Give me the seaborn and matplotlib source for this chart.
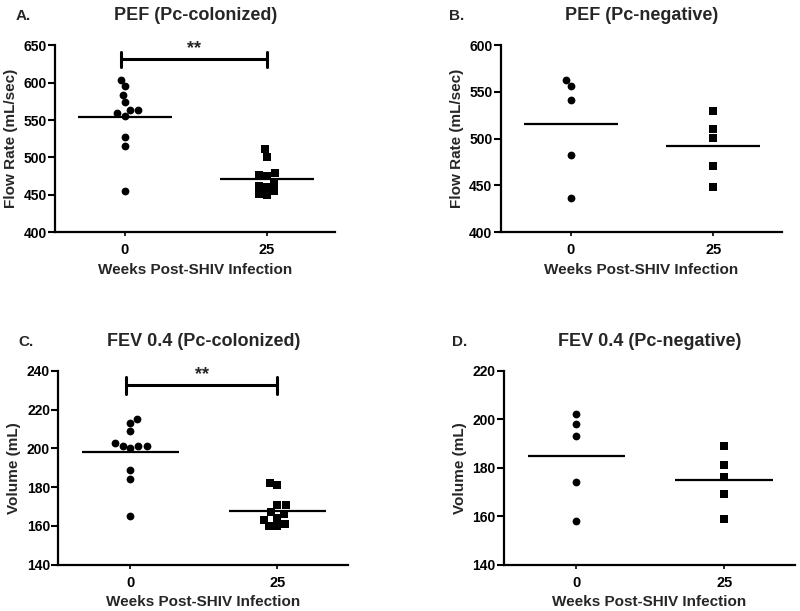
import numpy as np
import pandas as pd
import matplotlib
matplotlib.use("Agg")
import matplotlib.pyplot as plt
import seaborn as sns

# week categories on the x axis
weeks = ["0", "25"]

# A. PEF, Pc-colonized (mL/sec)
pef_col_w0 = [604, 595, 584, 574, 563, 563, 559, 555, 527, 515, 455]
pef_col_w25 = [511, 501, 479, 475, 476, 466, 462, 461, 455, 450, 451]
# B. PEF, Pc-negative (mL/sec)
pef_neg_w0 = [563, 556, 541, 483, 437]
pef_neg_w25 = [530, 510, 501, 471, 448]
# C. FEV 0.4, Pc-colonized (mL)
fev_col_w0 = [215, 213, 209, 203, 201, 200, 201, 201, 189, 184, 165]
fev_col_w25 = [182, 181, 171, 171, 167, 166, 164, 163, 161, 160, 160]
# D. FEV 0.4, Pc-negative (mL)
fev_neg_w0 = [202, 198, 193, 174, 158]
fev_neg_w25 = [189, 181, 176, 169, 159]

panels = [
    ("A.", "PEF (Pc-colonized)", "Flow Rate (mL/sec)", pef_col_w0, pef_col_w25, (400, 650), 50, (631, 10)),
    ("B.", "PEF (Pc-negative)", "Flow Rate (mL/sec)", pef_neg_w0, pef_neg_w25, (400, 600), 50, None),
    ("C.", "FEV 0.4 (Pc-colonized)", "Volume (mL)", fev_col_w0, fev_col_w25, (140, 240), 20, (232.5, 4.5)),
    ("D.", "FEV 0.4 (Pc-negative)", "Volume (mL)", fev_neg_w0, fev_neg_w25, (140, 220), 20, None),
]

# axes boxes in figure fractions [left, bottom, width, height]
boxes = [
    [0.069, 0.620, 0.350, 0.306],
    [0.626, 0.620, 0.351, 0.306],
    [0.073, 0.076, 0.362, 0.317],
    [0.630, 0.076, 0.364, 0.317],
]

sns.set_theme(style="ticks")
plt.rcParams["font.family"] = ["Liberation Sans", "DejaVu Sans"]
plt.rcParams["font.weight"] = "bold"

fig = plt.figure(figsize=(8, 6.11), dpi=100)

for (letter, title, ylabel, w0, w25, ylim, ystep, sig), box in zip(panels, boxes):
    ax = fig.add_axes(box)
    df = pd.DataFrame({
        "week": [weeks[0]] * len(w0) + [weeks[1]] * len(w25),
        "value": w0 + w25,
    })

    # mean line drawn as a box plot showing only the mean
    sns.boxplot(data=df, x="week", y="value", order=weeks, ax=ax, width=0.66,
                showmeans=True, meanline=True, showbox=False, showcaps=False,
                showfliers=False,
                whiskerprops={"visible": False},
                medianprops={"visible": False},
                meanprops={"color": "black", "linestyle": "-", "linewidth": 1.6})

    sns.swarmplot(data=df[df["week"] == weeks[0]], x="week", y="value", order=weeks,
                  ax=ax, color="black", marker="o", size=5.6)
    sns.swarmplot(data=df[df["week"] == weeks[1]], x="week", y="value", order=weeks,
                  ax=ax, color="black", marker="s", size=5.6)

    ax.set_xlim(-0.49, 1.48)
    ax.set_ylim(*ylim)
    ax.set_yticks(np.arange(ylim[0], ylim[1] + 1, ystep))
    ax.set_xlabel("Weeks Post-SHIV Infection", fontsize=11, fontweight="bold", labelpad=4)
    ax.set_ylabel(ylabel, fontsize=11, fontweight="bold", labelpad=4)
    ax.set_title(title, fontsize=13, fontweight="bold", pad=18)
    ax.tick_params(axis="y", length=5, width=1.5, labelsize=10, pad=1, colors="black")
    ax.tick_params(axis="x", length=3, width=1.2, labelsize=10.5, pad=5, colors="black")
    for lab in ax.get_xticklabels() + ax.get_yticklabels():
        lab.set_fontweight("bold")
    for side in ["left", "bottom"]:
        ax.spines[side].set_linewidth(1.6)
        ax.spines[side].set_color("black")
    sns.despine(ax=ax)

    if sig is not None:
        y, h = sig
        ax.plot([-0.03, 1.0], [y, y], color="black", lw=2.2, clip_on=False)
        ax.plot([-0.03, -0.03], [y - h, y + h], color="black", lw=2.2, clip_on=False)
        ax.plot([1.0, 1.0], [y - h, y + h], color="black", lw=2.2, clip_on=False)
        ax.text(0.49, y + h * 0.3, "**", ha="center", va="bottom", fontsize=13,
                fontweight="bold", clip_on=False)

    x0 = box[0] - 0.05 if letter in ("A.", "C.") else box[0] - 0.065
    fig.text(x0, box[1] + box[3] + 0.047, letter, fontsize=11, fontweight="bold",
             ha="left", va="center")

fig.savefig("out.png", dpi=100)
